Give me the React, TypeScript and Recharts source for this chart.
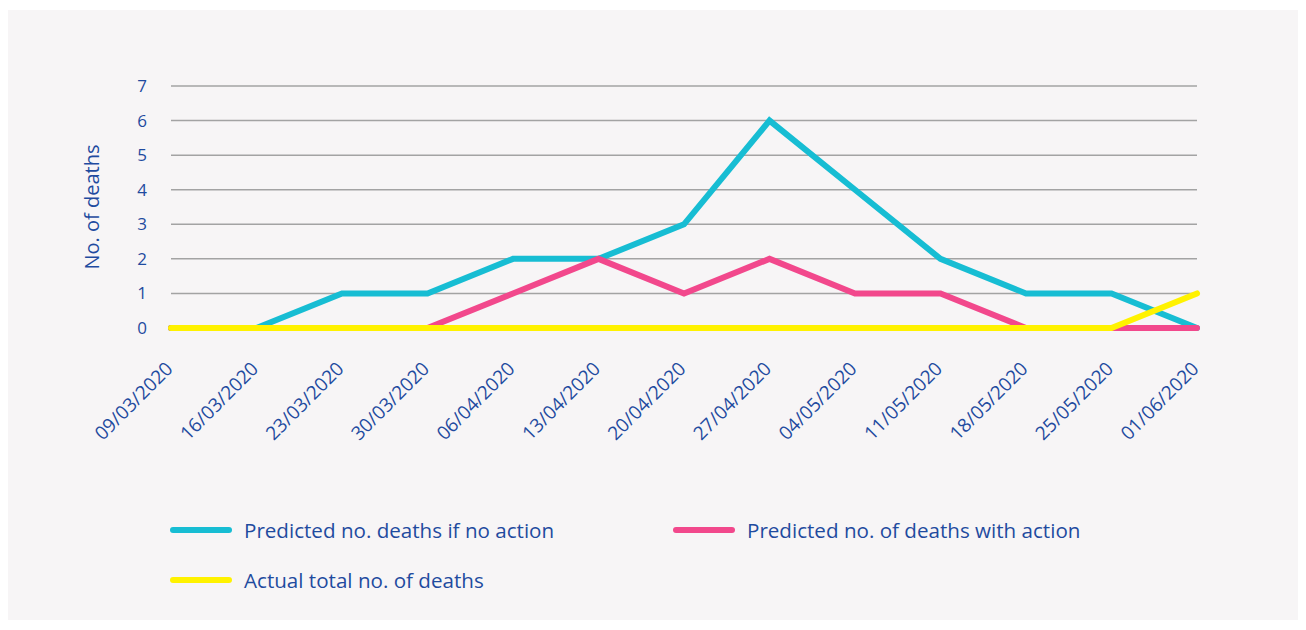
import React from 'react';
import { LineChart, Line, XAxis, YAxis, CartesianGrid, Legend, Label } from 'recharts';

const categories = ['09/03/2020', '16/03/2020', '23/03/2020', '30/03/2020', '06/04/2020', '13/04/2020', '20/04/2020', '27/04/2020', '04/05/2020', '11/05/2020', '18/05/2020', '25/05/2020', '01/06/2020'];
const noAction = [0, 0, 1, 1, 2, 2, 3, 6, 4, 2, 1, 1, 0];
const withAction = [0, 0, 0, 0, 1, 2, 1, 2, 1, 1, 0, 0, 0];
const actual = [0, 0, 0, 0, 0, 0, 0, 0, 0, 0, 0, 0, 1];
const yTicks = [0, 1, 2, 3, 4, 5, 6, 7];

const seriesKeys = ['noAction', 'withAction', 'actual'];
const seriesNames: Record<string, string> = {
  noAction: 'Predicted no. deaths if no action',
  withAction: 'Predicted no. of deaths with action',
  actual: 'Actual total no. of deaths',
};
const colors: Record<string, string> = { noAction: '#17bdd3', withAction: '#f2488c', actual: '#fff200' };

const data = categories.map((d, i) => ({ date: d, noAction: noAction[i], withAction: withAction[i], actual: actual[i] }));

const TEXT = '#1f4b9f';
const FONT = '"Open Sans", "Noto Sans", sans-serif';

const XTick = (props: any) => {
  const { x, y, payload } = props;
  return (
    <g transform={`translate(${x + 3},${y + 42})`}>
      <text x={0} y={0} textAnchor="end" transform="rotate(-45)" fill={TEXT} fontSize={19} fontFamily={FONT}>
        {payload.value}
      </text>
    </g>
  );
};

const renderLegend = (props: any) => {
  const payload = [...(props.payload || [])].sort(
    (a: any, b: any) => seriesKeys.indexOf(a.dataKey) - seriesKeys.indexOf(b.dataKey)
  );
  return (
    <div style={{ display: 'grid', gridTemplateColumns: '503px 440px', paddingLeft: 162, paddingTop: 3 }}>
      {payload.map((p: any) => (
        <div key={p.value} style={{ display: 'flex', alignItems: 'center', height: 50 }}>
          <div style={{ width: 62, height: 6, borderRadius: 3, background: p.color, marginRight: 12 }} />
          <span style={{ color: TEXT, fontSize: 20.6, fontFamily: FONT }}>{p.value}</span>
        </div>
      ))}
    </div>
  );
};

export default function App() {
  return (
    <div style={{ position: 'relative', top: 2, width: 1290, height: 612, background: '#f7f5f6' }}>
      <LineChart width={1290} height={612} data={data} margin={{ top: 76, right: 101, left: 0, bottom: 20 }}>
        <CartesianGrid vertical={false} stroke="#a3a3a3" strokeWidth={1.5} />
        <XAxis dataKey="date" axisLine={false} tickLine={false} tickSize={0} tickMargin={0} height={174} interval={0} tick={<XTick />} />
        <YAxis
          domain={[0, 7]}
          ticks={yTicks}
          width={163}
          axisLine={false}
          tickLine={false}
          tickSize={0}
          tickMargin={24}
          tick={{ fill: TEXT, fontSize: 17, fontFamily: FONT }}
        >
          <Label value="No. of deaths" angle={-90} position="center" dx={2} fill={TEXT} fontSize={20} fontFamily={FONT} />
        </YAxis>
        <Legend
          verticalAlign="bottom"
          content={renderLegend}
          wrapperStyle={{ left: 0, width: 1290, height: 100, bottom: 20 }}
        />
        {seriesKeys.map((k) => (
          <Line key={k} type="linear" dataKey={k} name={seriesNames[k]} stroke={colors[k]} strokeWidth={6} dot={false} strokeLinecap="round" strokeLinejoin="miter" isAnimationActive={false} />
        ))}
      </LineChart>
    </div>
  );
}
